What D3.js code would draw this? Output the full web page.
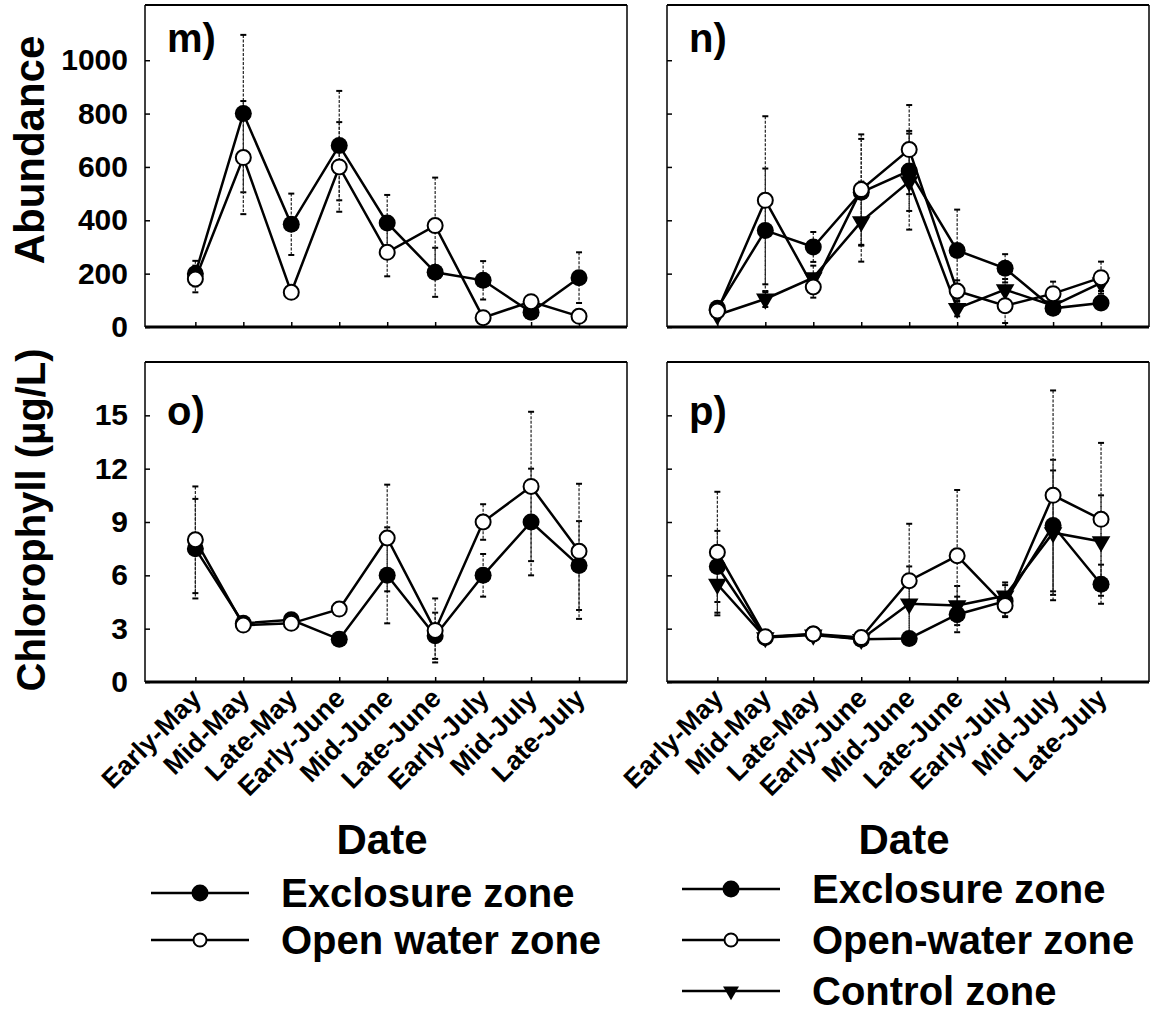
<!DOCTYPE html>
<html>
<head>
<meta charset="utf-8">
<script src="https://cdn.jsdelivr.net/npm/d3@7"></script>
<style>
  body { margin: 0; background: #fff; }
  svg { font-family: "Liberation Sans", Arial, sans-serif; font-weight: bold; }
</style>
</head>
<body>
<svg id="chart" width="1157" height="1015"></svg>
<script>
// sampling periods (x axis)
const dates = ['Early-May', 'Mid-May', 'Late-May', 'Early-June', 'Mid-June',
  'Late-June', 'Early-July', 'Mid-July', 'Late-July'];

const abundTicks = [0, 200, 400, 600, 800, 1000];
const chlTicks = [0, 3, 6, 9, 12, 15];

// m) abundance, left site
const mExcl = [200, 800, 385, 680, 390, 205, 175, 55, 185];
const mExclErr = [48, 295, 115, 205, 105, 92, 72, 20, 95];
const mOpen = [180, 635, 130, 600, 280, 380, 35, 95, 40];
const mOpenErr = [50, 212, 20, 168, 90, 180, 15, 20, 15];

// n) abundance, right site
const nExcl = [70, 362, 300, 505, 585, 287, 220, 70, 90];
const nExclErr = [20, 232, 56, 200, 150, 153, 53, 20, 20];
const nOpen = [60, 475, 150, 515, 665, 135, 80, 125, 185];
const nOpenErr = [20, 315, 40, 207, 167, 40, 65, 45, 60];
const nCtrl = [45, 105, 185, 395, 545, 70, 140, 80, 165];
const nCtrlErr = [15, 30, 45, 150, 180, 30, 40, 20, 30];

// o) chlorophyll, left site
const oExcl = [7.5, 3.3, 3.5, 2.4, 6.0, 2.6, 6.0, 9.0, 6.55];
const oExclErr = [2.8, 0.2, 0.2, 0.2, 2.7, 1.3, 1.2, 3.0, 2.5];
const oOpen = [8.0, 3.2, 3.3, 4.1, 8.1, 2.9, 9.0, 11.0, 7.35];
const oOpenErr = [3.0, 0.2, 0.2, 0.3, 3.0, 1.8, 1.0, 4.2, 3.8];

// p) chlorophyll, right site
const pExcl = [6.5, 2.5, 2.7, 2.4, 2.45, 3.8, 4.55, 8.8, 5.5];
const pExclErr = [2.0, 0.2, 0.2, 0.2, 0.2, 1.0, 0.9, 3.7, 1.1];
const pOpen = [7.3, 2.55, 2.7, 2.5, 5.7, 7.1, 4.3, 10.5, 9.15];
const pOpenErr = [3.4, 0.2, 0.2, 0.2, 3.2, 3.7, 0.6, 5.9, 4.3];
const pCtrl = [5.5, 2.5, 2.65, 2.4, 4.4, 4.3, 4.85, 8.4, 7.9];
const pCtrlErr = [1.75, 0.2, 0.2, 0.2, 2.1, 1.1, 0.75, 3.5, 2.6];

const svg = d3.select('#chart');
const W = 482;

const x = d3.scaleLinear().domain([-1.05, 9.0]).range([0, W]);

const panels = [
  { label: 'm)', left: 145, top: 5, h: 322, max: 1207, ticks: abundTicks, yLabels: true, xLabels: false,
    series: [
      { kind: 'excl', v: mExcl, e: mExclErr },
      { kind: 'open', v: mOpen, e: mOpenErr }
    ] },
  { label: 'n)', left: 667, top: 5, h: 322, max: 1207, ticks: abundTicks, yLabels: false, xLabels: false,
    series: [
      { kind: 'ctrl', v: nCtrl, e: nCtrlErr },
      { kind: 'excl', v: nExcl, e: nExclErr },
      { kind: 'open', v: nOpen, e: nOpenErr }
    ] },
  { label: 'o)', left: 145, top: 362, h: 320, max: 18, ticks: chlTicks, yLabels: true, xLabels: true,
    series: [
      { kind: 'excl', v: oExcl, e: oExclErr },
      { kind: 'open', v: oOpen, e: oOpenErr }
    ] },
  { label: 'p)', left: 667, top: 362, h: 320, max: 18, ticks: chlTicks, yLabels: false, xLabels: true,
    series: [
      { kind: 'ctrl', v: pCtrl, e: pCtrlErr },
      { kind: 'excl', v: pExcl, e: pExclErr },
      { kind: 'open', v: pOpen, e: pOpenErr }
    ] }
];

const triangle = d3.symbol().type(d3.symbolTriangle).size(150);

function drawMarker(sel, kind) {
  if (kind === 'ctrl') {
    sel.append('path').attr('d', triangle).attr('transform', 'rotate(180)')
      .attr('fill', '#000');
  } else if (kind === 'excl') {
    sel.append('circle').attr('r', 8.5).attr('fill', '#000');
  } else {
    sel.append('circle').attr('r', 7.5).attr('fill', '#fff')
      .attr('stroke', '#000').attr('stroke-width', 2);
  }
}

panels.forEach(p => {
  const g = svg.append('g').attr('transform', `translate(${p.left},${p.top})`);
  const y = d3.scaleLinear().domain([0, p.max]).range([p.h, 0]);

  // y axis, inward ticks
  const yAxis = g.append('g')
    .call(d3.axisLeft(y).tickValues(p.ticks).tickSize(-5).tickPadding(17)
      .tickFormat(p.yLabels ? d3.format('d') : ''));
  yAxis.select('.domain').remove();
  yAxis.selectAll('line').attr('stroke', '#000').attr('stroke-width', 1.5);
  yAxis.selectAll('text').attr('font-size', 30).attr('fill', '#000')
    .attr('font-family', '"Liberation Sans", Arial, sans-serif').attr('font-weight', 'bold');

  // x axis, inward ticks
  const xAxis = g.append('g').attr('transform', `translate(0,${p.h})`)
    .call(d3.axisBottom(x).tickValues(d3.range(dates.length)).tickSize(-5)
      .tickFormat(i => p.xLabels ? dates[i] : ''));
  xAxis.select('.domain').remove();
  xAxis.selectAll('line').attr('stroke', '#000').attr('stroke-width', 1.5);
  xAxis.selectAll('text')
    .attr('font-size', 27).attr('fill', '#000')
    .attr('font-family', '"Liberation Sans", Arial, sans-serif').attr('font-weight', 'bold')
    .attr('text-anchor', 'end').attr('dy', null).attr('y', null)
    .attr('transform', 'translate(7,18) rotate(-45)');

  // frame
  g.append('line').attr('x1', 0).attr('x2', W).attr('y1', 0).attr('y2', 0)
    .attr('stroke', '#000').attr('stroke-width', 2);
  g.append('line').attr('x1', 0).attr('x2', W).attr('y1', p.h).attr('y2', p.h)
    .attr('stroke', '#000').attr('stroke-width', 3);
  g.append('line').attr('x1', 0).attr('x2', 0).attr('y1', 0).attr('y2', p.h)
    .attr('stroke', '#000').attr('stroke-width', 1.5);
  g.append('line').attr('x1', W).attr('x2', W).attr('y1', 0).attr('y2', p.h)
    .attr('stroke', '#000').attr('stroke-width', 1.5);

  // error bars
  p.series.forEach(s => {
    const eb = g.append('g').selectAll('g').data(s.v).join('g');
    eb.append('line')
      .attr('x1', (d, i) => x(i)).attr('x2', (d, i) => x(i))
      .attr('y1', (d, i) => y(d + s.e[i])).attr('y2', (d, i) => y(Math.max(0, d - s.e[i])))
      .attr('stroke', '#222').attr('stroke-width', 1.2).attr('stroke-dasharray', '3,1.5');
    [1, -1].forEach(sign => {
      eb.append('line')
        .attr('x1', (d, i) => x(i) - 3).attr('x2', (d, i) => x(i) + 3)
        .attr('y1', (d, i) => y(Math.max(0, d + sign * s.e[i])))
        .attr('y2', (d, i) => y(Math.max(0, d + sign * s.e[i])))
        .attr('stroke', '#000').attr('stroke-width', 2);
    });
  });

  // connecting lines
  const line = d3.line().x((d, i) => x(i)).y(d => y(d));
  p.series.forEach(s => {
    g.append('path').datum(s.v).attr('d', line)
      .attr('fill', 'none').attr('stroke', '#000').attr('stroke-width', 2.5);
  });

  // markers
  p.series.forEach(s => {
    g.append('g').selectAll('g').data(s.v).join('g')
      .attr('transform', (d, i) => `translate(${x(i)},${y(d)})`)
      .each(function () { drawMarker(d3.select(this), s.kind); });
  });

  // panel letter
  g.append('text').attr('x', 22).attr('y', p.top < 100 ? 47 : 63)
    .attr('font-size', 40).text(p.label);

  // x title
  if (p.xLabels) {
    g.append('text').attr('x', W / 2 - 4).attr('y', p.h + 172)
      .attr('text-anchor', 'middle').attr('font-size', 42).text('Date');
  }
});

// y titles
svg.append('text').attr('transform', 'translate(44,150) rotate(-90)')
  .attr('text-anchor', 'middle').attr('font-size', 42).text('Abundance');
svg.append('text').attr('transform', 'translate(45,520) rotate(-90)')
  .attr('text-anchor', 'middle').attr('font-size', 40).text('Chlorophyll (\u00b5g/L)');

// legends
const legendLeft = [
  { kind: 'excl', name: 'Exclosure zone' },
  { kind: 'open', name: 'Open water zone' }
];
const legendRight = [
  { kind: 'excl', name: 'Exclosure zone' },
  { kind: 'open', name: 'Open-water zone' },
  { kind: 'ctrl', name: 'Control zone' }
];

function legend(items, x0, y0, step) {
  const rows = svg.append('g').selectAll('g').data(items).join('g')
    .attr('transform', (d, i) => `translate(${x0},${y0 + i * step})`);
  rows.append('line').attr('x1', 0).attr('x2', 98)
    .attr('stroke', '#000').attr('stroke-width', 2.5);
  rows.append('g').attr('transform', 'translate(49,0)')
    .each(function (d) {
      const m = d3.select(this);
      if (d.kind === 'excl') m.append('circle').attr('r', 8.5).attr('fill', '#000');
      else if (d.kind === 'open') m.append('circle').attr('r', 6.5).attr('fill', '#fff')
        .attr('stroke', '#000').attr('stroke-width', 2);
      else m.append('path').attr('d', d3.symbol().type(d3.symbolTriangle).size(110))
        .attr('transform', 'rotate(180)').attr('fill', '#000');
    });
  rows.append('text').attr('x', 130).attr('y', 14).attr('font-size', 40)
    .text(d => d.name);
}

legend(legendLeft, 151, 893, 47);
legend(legendRight, 682, 889, 51);
</script>
</body>
</html>
